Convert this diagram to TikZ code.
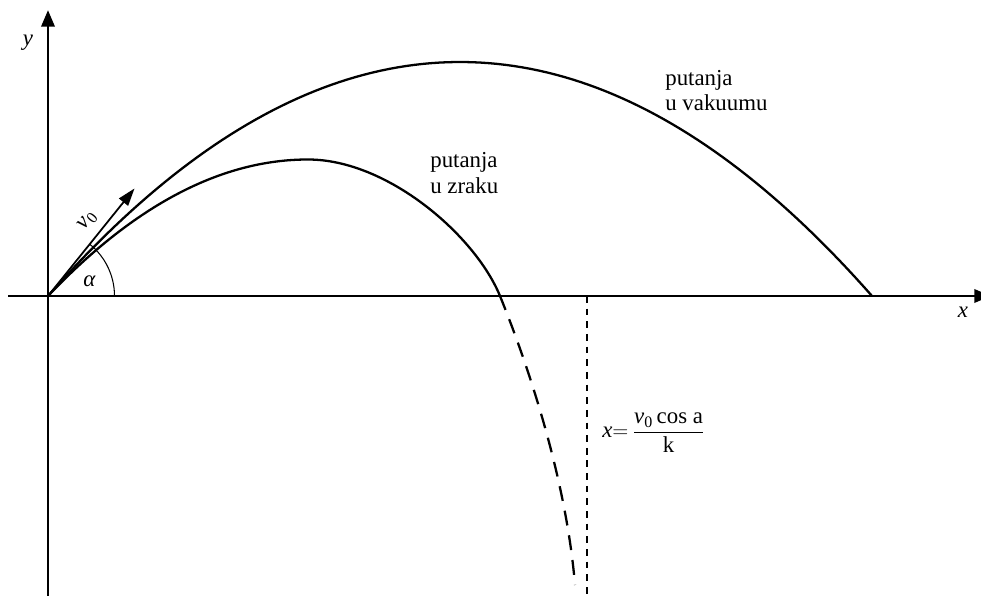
\documentclass[tikz,border=0pt]{standalone}
\usepackage{amsmath}
\usepackage{fontspec}
\setmainfont{Liberation Serif}
\usepackage{tikz}
\usetikzlibrary{arrows.meta, positioning, calc}

\begin{document}
\begin{tikzpicture}[
    axis/.style={line width=1.7pt, -{Triangle[length=9.5pt, width=7.5pt]}},
    traj/.style={line width=1.3pt},
    airdash/.style={traj, dash pattern=on 8.5pt off 5.7pt},
    asym/.style={line width=1.1pt, dash pattern=on 3.8pt off 3.4pt},
    vec/.style={line width=1pt, -{Triangle[length=10pt, width=6.5pt]}},
    lbl/.style={font=\fontsize{13}{14.5}\selectfont, inner sep=0pt}
]
    \useasboundingbox (-0.96,-6.0) rectangle (18.66,5.92);

    \coordinate (O) at (0,0);
    \coordinate (ybot) at (0,-6.0);
    \coordinate (ytop) at (0,5.72);
    \coordinate (xleft) at (-0.8,0);
    \coordinate (xright) at (18.86,0);
    \coordinate (vtip) at (1.73,2.15);
    \coordinate (apex) at (5.2,2.73);
    \coordinate (land) at (9.04,0);
    \coordinate (fall) at (10.54,-5.78);
    \coordinate (asymtop) at (10.78,0);
    \coordinate (asymbot) at (10.78,-6.0);

    % axes
    \draw[axis] (ybot) -- (ytop);
    \draw[axis] (xleft) -- (xright);
    \node[lbl] (ylab) at (-0.4,5.06) {\textit{y}};
    \node[lbl] (xlab) at (18.3,-0.32) {\textit{x}};

    % trajectory in vacuum
    \draw[traj] plot[domain=0:16.48, samples=100] (\x, {4*4.68*\x*(16.48-\x)/271.6});

    % trajectory in air
    \draw[traj] (O) .. controls (1.73,1.82) and (3.47,2.73) .. (apex)
        .. controls (6.8,2.73) and (8.55,1.2) .. (land);
    \draw[airdash] (land) .. controls (9.5,-1.13) and (10.35,-3.5) .. (fall);
    \draw[asym] (asymtop) -- (asymbot);

    % initial velocity and angle
    \draw[vec] (O) -- (vtip);
    \draw[line width=0.6pt] (1.33,0) arc[start angle=0, end angle=51, radius=1.33];
    \node[lbl] (alpha) at (0.83,0.3) {\textit{α}};
    \node[lbl, rotate=51] (vlab) at (0.8,1.5) {\textit{v}\textsubscript{0}};

    \node[lbl, align=left, anchor=west] (zrak) at (7.64,2.46) {putanja\\u zraku};
    \node[lbl, align=left, anchor=west] (vakuum) at (12.34,4.11) {putanja\\u vakuumu};
    \node[lbl, anchor=base west] (limx) at (11.08,-2.84)
        {$\textit{x}{=}\,\dfrac{\textit{v}_{\textrm{0}}\,\textrm{cos a}}{\textrm{k}}$};
\end{tikzpicture}
\end{document}
